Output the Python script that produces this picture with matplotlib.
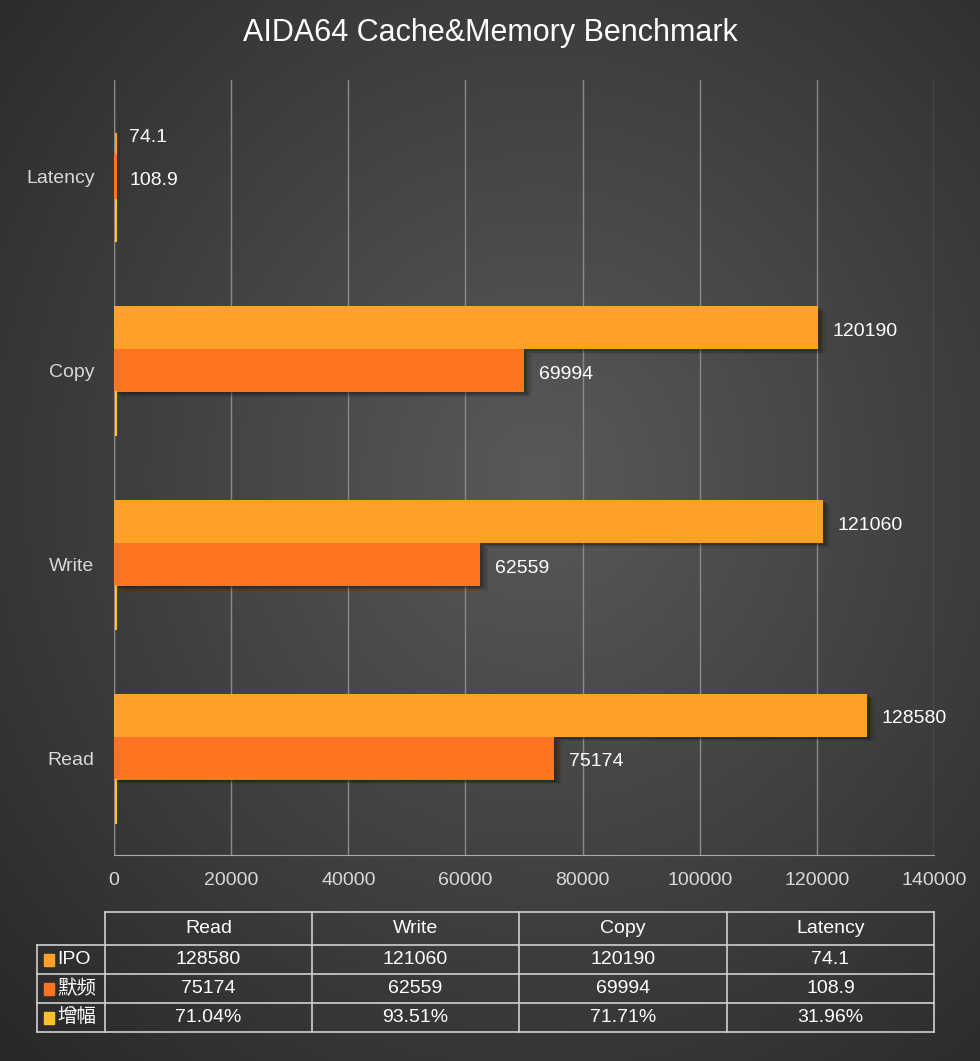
import numpy as np
import matplotlib
matplotlib.use("Agg")
import matplotlib.pyplot as plt
from matplotlib.patches import Rectangle
from matplotlib import font_manager as fm

categories = ["Read", "Write", "Copy", "Latency"]
series_names = ["IPO", "默频", "增幅"]
ipo = [128580, 121060, 120190, 74.1]
default = [75174, 62559, 69994, 108.9]
gain = [0.7104, 0.9351, 0.7171, 0.3196]
ipo_lbl = ["128580", "121060", "120190", "74.1"]
def_lbl = ["75174", "62559", "69994", "108.9"]
gain_lbl = ["71.04%", "93.51%", "71.71%", "31.96%"]
xticks = [0, 20000, 40000, 60000, 80000, 100000, 120000, 140000]
colors = ["#FFA126", "#FF7420", "#FFC12A"]

names = {f.name for f in fm.fontManager.ttflist}
cjk = [n for n in ["Noto Sans CJK SC", "Noto Sans CJK JP", "Noto Sans CJK TC", "Noto Sans CJK KR"] if n in names]
plt.rcParams["font.family"] = ["Liberation Sans"] + cjk + ["DejaVu Sans"]

W, H = 980, 1061
fig = plt.figure(figsize=(W/100, H/100), dpi=100)

bg = fig.add_axes([0, 0, 1, 1])
yy, xx = np.mgrid[0:H, 0:W]
r = np.sqrt(((xx - W*0.55)/W)**2 + ((yy - H*0.45)/H)**2)
g = np.clip(0.35 - 0.25*r, 0.15, 0.35)
bg.imshow(np.dstack([g, g, g]), extent=[0, W, H, 0], aspect="auto")
bg.set_axis_off()

def fx(px): return px / W
def fy(py): return 1 - py / H

ax = fig.add_axes([fx(114), fy(855), fx(934) - fx(114), fy(80) - fy(855)])
ax.set_facecolor("none")
ax.set_xlim(0, 140000)
ax.set_ylim(-0.5, 3.5)
h = 0.222
y = np.arange(len(categories))
offs = [h, 0, -h]
for vals, lbls, off, c in [(ipo, ipo_lbl, offs[0], colors[0]), (default, def_lbl, offs[1], colors[1])]:
    for yi, v, l in zip(y, vals, lbls):
        for k, a in enumerate([0.25, 0.18, 0.1]):
            d = 500 + 400*k
            ax.add_patch(Rectangle((d, yi + off - h/2 - 0.012 - 0.006*k), v, h, color="#111111", alpha=a, zorder=2, lw=0))
        ax.barh(yi + off, v, height=h, color=c, zorder=3)
        ax.text(v + 2500, yi + off - 0.02, l, color="white", fontsize=14, va="center", ha="left", zorder=4)
ax.barh(y + offs[2], gain, height=h, color=colors[2], zorder=3)
for yi in y:
    ax.plot([400, 400], [yi + offs[2] - h/2, yi + offs[2] + h/2], color=colors[2], lw=1.5, zorder=3)
ax.plot([400, 400], [3 + h, 3 + h/2], color=colors[0], lw=1.5, zorder=3)
ax.plot([400, 400], [3 + h/2, 3 - h/2], color=colors[1], lw=1.5, zorder=3)

ax.set_yticks(y)
ax.set_yticklabels(categories, color="#d8d8d8", fontsize=14)
ax.set_xticks(xticks)
ax.set_xticklabels([str(t) for t in xticks], color="#d8d8d8", fontsize=14)
ax.tick_params(length=0, pad=12)
ax.tick_params(axis="y", pad=14)
ax.grid(axis="x", color="#8a8a8a", lw=1, zorder=0)
for s in ["top", "right", "left"]:
    ax.spines[s].set_visible(False)
ax.spines["bottom"].set_color("#aaaaaa")
ax.plot([0, 0], [-0.5, 3.5], color="#8a8a8a", lw=1, zorder=1)

fig.text(0.5, fy(33), "AIDA64 Cache&Memory Benchmark", ha="center", va="center",
         color="white", fontsize=22)

tb = fig.add_axes([0, 0, 1, 1])
tb.set_xlim(0, W); tb.set_ylim(H, 0); tb.set_axis_off()
cols = [37, 105, 312, 519, 727, 934]
rows = [912, 945, 974, 1003, 1032]
lc = "#d0d0d0"
tb.plot([105, 934], [912, 912], color=lc, lw=1.2)
for r_ in rows[1:]:
    tb.plot([37, 934], [r_, r_], color=lc, lw=1.2)
tb.plot([37, 37], [945, 1032], color=lc, lw=1.2)
for c_ in cols[1:]:
    tb.plot([c_, c_], [912, 1032], color=lc, lw=1.2)
for i, cat in enumerate(categories):
    cx = (cols[i+1] + cols[i+2]) / 2
    tb.text(cx, (912+945)/2, cat, color="white", fontsize=14, ha="center", va="center")
    for j, lbls in enumerate([ipo_lbl, def_lbl, gain_lbl]):
        tb.text(cx, (rows[j+1]+rows[j+2])/2, lbls[i], color="white", fontsize=14, ha="center", va="center")
for j, name in enumerate(series_names):
    cy = (rows[j+1] + rows[j+2]) / 2
    tb.add_patch(Rectangle((44, cy - 6), 10, 12, color=colors[j]))
    tb.text(57, cy, name, color="white", fontsize=14, ha="left", va="center")

fig.savefig("out.png", dpi=100)
